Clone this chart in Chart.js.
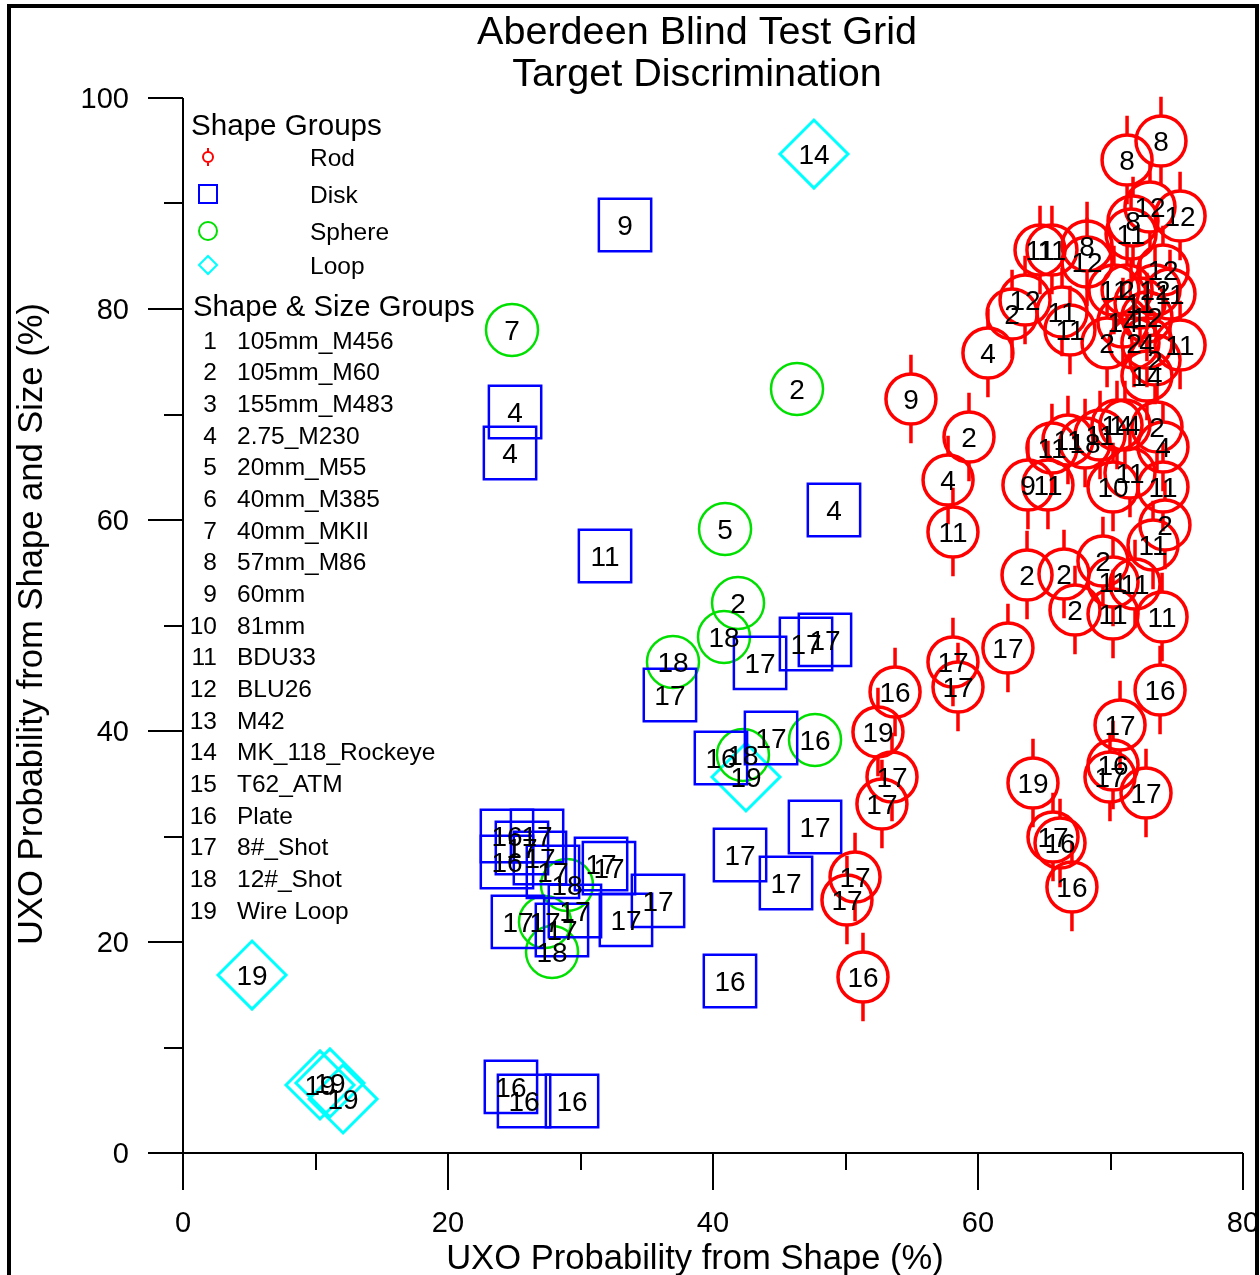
<!DOCTYPE html>
<html><head><meta charset="utf-8">
<script src="https://cdn.jsdelivr.net/npm/chart.js@4/dist/chart.umd.min.js"></script>
<style>html,body{margin:0;padding:0;background:#fff;}</style>
</head><body>
<canvas id="c" width="1260" height="1275" style="display:block"></canvas>
<script>
// ---------------- DATA ----------------
const titleLines = ['Aberdeen Blind Test Grid', 'Target Discrimination'];
const xTitle = 'UXO Probability from Shape (%)';
const yTitle = 'UXO Probability from Shape and Size (%)';
const xTicks = [0, 20, 40, 60, 80];
const xMinorTicks = [10, 30, 50, 70];
const yTicks = [0, 20, 40, 60, 80, 100];
const yMinorTicks = [10, 30, 50, 70, 90];
const shapeGroups = ['Rod', 'Disk', 'Sphere', 'Loop'];
const groupNumbers = [1,2,3,4,5,6,7,8,9,10,11,12,13,14,15,16,17,18,19];
const groupNames = ['105mm_M456','105mm_M60','155mm_M483','2.75_M230','20mm_M55','40mm_M385','40mm_MKII','57mm_M86','60mm','81mm','BDU33','BLU26','M42','MK_118_Rockeye','T62_ATM','Plate','8#_Shot','12#_Shot','Wire Loop'];

// Rod (red circles with error bars)
const rodX = [73.81,71.25,72.98,75.25,71.70,71.55,64.68,65.58,68.23,68.23,
              63.55,62.57,66.34,66.94,60.75,70.26,71.25,73.96,73.36,74.49,
              72.23,72.75,70.94,69.74,71.77,72.75,75.25,73.36,72.75,54.94,
              59.32,57.74,58.11,63.77,65.28,65.58,66.79,68.08,69.21,70.49,
              71.09,73.51,73.96,70.19,71.47,73.96,74.11,73.21,63.70,66.49,
              69.43,70.19,71.85,67.32,70.19,73.89,62.26,58.11,58.49,53.74,
              52.45,53.51,52.75,50.72,50.11,51.32,73.74,70.72,70.19,69.96,
              72.68,64.15,65.66,66.19,67.09];
const rodY = [95.92,94.12,89.67,88.82,88.34,87.11,85.59,85.59,85.97,84.45,
              80.85,79.53,79.72,78.01,75.83,81.80,81.80,83.70,81.80,81.42,
              80.57,79.24,78.77,76.78,76.78,76.78,76.59,75.17,73.65,71.47,
              67.87,63.79,58.86,63.32,63.32,66.82,67.58,67.30,68.06,69.00,
              69.00,68.82,66.92,63.13,64.45,63.13,59.53,57.63,54.79,54.88,
              56.11,54.12,53.93,51.47,51.09,50.81,47.87,46.54,44.17,43.70,
              39.91,35.64,33.08,26.16,23.98,16.68,43.89,40.57,36.78,35.64,
              34.12,35.07,29.95,29.38,25.21];
const rodLabel = [8,8,12,12,8,11,11,11,8,12,
                  12,2,11,11,4,11,2,12,12,11,
                  11,12,14,2,2,4,11,2,14,9,
                  2,4,11,9,11,11,11,18,11,14,
                  14,2,4,10,11,11,2,11,2,2,
                  2,11,11,2,11,11,17,17,17,16,
                  19,17,17,17,17,16,16,17,16,17,
                  17,19,17,16,16];
const rodError = 4.2; // half-length of the vertical bars, in % units

// Disk (blue squares)
const diskX = [33.36,25.06,24.68,31.85,49.13,36.75,43.55,47.02,48.45,40.60,
               44.38,47.70,42.04,45.51,41.28,35.85,33.43,25.28,24.45,26.72,
               25.58,24.45,26.94,27.92,31.55,32.15,28.60,29.58,24.75,25.74,
               29.36];
const diskY = [87.96,70.24,66.35,56.59,60.95,43.41,46.45,48.25,48.63,37.44,
               39.34,30.90,28.25,25.59,16.30,23.89,22.09,21.90,30.05,30.05,
               28.91,27.58,27.96,26.64,27.39,27.01,21.14,22.94,6.26,4.93,
               4.93];
const diskLabel = [9,4,4,11,4,17,17,17,17,16,
                   17,17,17,17,16,17,17,17,16,17,
                   17,16,17,17,17,17,17,17,16,16,
                   16];

// Sphere (green circles)
const sphereX = [24.83,46.34,40.91,41.89,40.83,36.98,47.70,42.26,28.98,27.32,27.85];
const sphereY = [78.01,72.42,59.15,52.13,48.91,46.54,39.15,37.73,25.40,21.90,19.05];
const sphereLabel = [7,2,5,2,18,18,16,18,18,17,18];

// Loop (cyan diamonds)
const loopX = [47.62,5.21,42.49,10.34,11.09,12.08];
const loopY = [94.69,16.87,35.64,6.45,6.64,5.12];
const loopLabel = [14,19,19,19,19,19];

// ---------------- STYLE ----------------
const FONT = '"Liberation Sans", Arial, Helvetica, sans-serif';
const RED = '#ff0000', BLUE = '#0000ff', GREEN = '#00e000', CYAN = '#00ffff';
const ROD_R = 25, DISK_R = 37, SPHERE_R = 26, LOOP_R = 34;
const LABEL_FS = 28;

function pts(xs, ys){ return xs.map((x,i)=>({x:x, y:ys[i]})); }

const shapeStyle = [
  {color: RED,   style: 'circle'},
  {color: BLUE,  style: 'rect'},
  {color: GREEN, style: 'circle'},
  {color: CYAN,  style: 'rectRot'}
];

const customPlugin = {
  id: 'custom',
  beforeDatasetsDraw(chart){
    const ctx = chart.ctx, xs = chart.scales.x, ys = chart.scales.y;
    ctx.save();
    ctx.strokeStyle = RED; ctx.lineWidth = 3.5;
    rodX.forEach((xv,i)=>{
      const px = xs.getPixelForValue(xv);
      const py = ys.getPixelForValue(rodY[i]);
      const top = ys.getPixelForValue(rodY[i] + rodError);
      const bot = ys.getPixelForValue(rodY[i] - rodError);
      ctx.beginPath();
      ctx.moveTo(px, py - ROD_R); ctx.lineTo(px, top);
      ctx.moveTo(px, py + ROD_R); ctx.lineTo(px, bot);
      ctx.stroke();
    });
    ctx.restore();
  },
  afterDatasetsDraw(chart){
    const ctx = chart.ctx, xs = chart.scales.x, ys = chart.scales.y;
    const ca = chart.chartArea;
    ctx.save();
    ctx.fillStyle = '#000';
    ctx.font = LABEL_FS + 'px ' + FONT;
    ctx.textAlign = 'center';
    ctx.textBaseline = 'alphabetic';
    const drawLabels = (X, Y, L) => X.forEach((xv,i)=>{
      const px = xs.getPixelForValue(xv), py = ys.getPixelForValue(Y[i]);
      ctx.fillText(String(L[i]), px, py + LABEL_FS*0.36);
    });
    drawLabels(rodX, rodY, rodLabel);
    drawLabels(diskX, diskY, diskLabel);
    drawLabels(sphereX, sphereY, sphereLabel);
    drawLabels(loopX, loopY, loopLabel);

    // axes
    ctx.strokeStyle = '#000'; ctx.lineWidth = 2;
    ctx.beginPath();
    ctx.moveTo(ca.left, ca.top); ctx.lineTo(ca.left, ca.bottom);
    ctx.moveTo(ca.left, ca.bottom); ctx.lineTo(ca.right, ca.bottom);
    ctx.stroke();
    ctx.beginPath();
    yTicks.forEach(v=>{ const p = Math.round(ys.getPixelForValue(v)); ctx.moveTo(ca.left-35, p); ctx.lineTo(ca.left, p); });
    yMinorTicks.forEach(v=>{ const p = Math.round(ys.getPixelForValue(v)); ctx.moveTo(ca.left-19, p); ctx.lineTo(ca.left, p); });
    xTicks.forEach(v=>{ const p = Math.round(xs.getPixelForValue(v)); ctx.moveTo(p, ca.bottom); ctx.lineTo(p, ca.bottom+37); });
    xMinorTicks.forEach(v=>{ const p = Math.round(xs.getPixelForValue(v)); ctx.moveTo(p, ca.bottom); ctx.lineTo(p, ca.bottom+17); });
    ctx.stroke();

    ctx.font = '29px ' + FONT;
    ctx.textAlign = 'right';
    yTicks.forEach(v=>{ ctx.fillText(String(v), 129, ys.getPixelForValue(v) + 29*0.36); });
    ctx.textAlign = 'center';
    xTicks.forEach(v=>{ ctx.fillText(String(v), xs.getPixelForValue(v), 1222 + 29*0.36); });

    // axis titles
    ctx.font = '34.6px ' + FONT;
    ctx.fillText(xTitle, 695, 1257 + 34.6*0.36);
    ctx.save();
    ctx.translate(30, 624); ctx.rotate(-Math.PI/2);
    ctx.fillText(yTitle, 0, 34.6*0.36);
    ctx.restore();

    // chart title
    ctx.font = '39.6px ' + FONT;
    ctx.fillText(titleLines[0], 697, 30 + 39.6*0.36);
    ctx.fillText(titleLines[1], 697, 72 + 39.6*0.36);

    // legend
    ctx.textAlign = 'left';
    ctx.font = '29.6px ' + FONT;
    ctx.fillText('Shape Groups', 191, 124 + 29.6*0.36);
    const rowY = [157, 194, 231, 265];
    ctx.font = '24.5px ' + FONT;
    shapeGroups.forEach((name, i)=>{
      const cy = rowY[i], cx = 208;
      ctx.strokeStyle = shapeStyle[i].color;
      ctx.lineWidth = 2;
      ctx.beginPath();
      if (i === 0) {
        ctx.arc(cx, cy, 5, 0, Math.PI*2);
        ctx.moveTo(cx, cy-9); ctx.lineTo(cx, cy-5);
        ctx.moveTo(cx, cy+5); ctx.lineTo(cx, cy+9);
      } else if (i === 1) {
        ctx.rect(cx-9, cy-9, 18, 18);
      } else if (i === 2) {
        ctx.arc(cx, cy, 9, 0, Math.PI*2);
      } else {
        ctx.moveTo(cx, cy-9); ctx.lineTo(cx+9, cy); ctx.lineTo(cx, cy+9); ctx.lineTo(cx-9, cy); ctx.closePath();
      }
      ctx.stroke();
      ctx.fillStyle = '#000';
      ctx.fillText(name, 310, cy + 24.5*0.36);
    });
    ctx.font = '29.3px ' + FONT;
    ctx.fillText('Shape & Size Groups', 193, 305 + 29.3*0.36);
    ctx.font = '24.5px ' + FONT;
    groupNames.forEach((name, i)=>{
      const cy = 340 + i*31.65;
      ctx.textAlign = 'right';
      ctx.fillText(String(groupNumbers[i]), 217, cy + 24.5*0.36);
      ctx.textAlign = 'left';
      ctx.fillText(name, 237, cy + 24.5*0.36);
    });

    // outer frame
    ctx.strokeStyle = '#000'; ctx.lineWidth = 4;
    ctx.strokeRect(9, 6, 1248, 1280);
    ctx.restore();
  }
};

function ds(label, X, Y, i, r, bw){
  return {
    label: label,
    data: pts(X, Y),
    pointStyle: shapeStyle[i].style,
    pointRadius: r,
    pointHoverRadius: r,
    pointBorderWidth: bw,
    pointBorderColor: shapeStyle[i].color,
    pointBackgroundColor: 'rgba(0,0,0,0)',
    showLine: false,
    clip: false
  };
}

new Chart(document.getElementById('c'), {
  type: 'scatter',
  data: {
    datasets: [
      ds('Rod', rodX, rodY, 0, ROD_R, 3.5),
      ds('Disk', diskX, diskY, 1, DISK_R, 2.5),
      ds('Sphere', sphereX, sphereY, 2, SPHERE_R, 2.5),
      ds('Loop', loopX, loopY, 3, LOOP_R, 3)
    ]
  },
  options: {
    responsive: false,
    animation: false,
    devicePixelRatio: 1,
    events: [],
    layout: { autoPadding: false, padding: { left: 183, top: 98, right: 17, bottom: 122 } },
    plugins: { legend: { display: false }, title: { display: false }, tooltip: { enabled: false } },
    scales: {
      x: { type: 'linear', min: 0, max: 80, display: false },
      y: { type: 'linear', min: 0, max: 100, display: false }
    }
  },
  plugins: [customPlugin]
});
</script>
</body></html>
